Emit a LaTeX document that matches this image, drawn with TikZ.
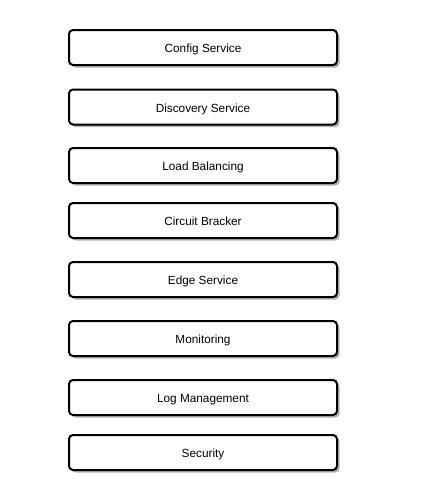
\documentclass[tikz,border=0pt]{standalone}
\usepackage{fontspec}
\setmainfont{Liberation Sans}
\usetikzlibrary{shadows}
\begin{document}
\begin{tikzpicture}[x=1pt,y=-1pt,
  box/.style={draw=black, line width=2pt, rounded corners=4pt, fill=white,
    minimum width=268pt, minimum height=35pt, inner sep=0pt,
    text height=11pt, text depth=0.6pt,
    font=\fontsize{11.8}{14}\selectfont,
    drop shadow={shadow xshift=2.5pt, shadow yshift=-2.5pt, fill=black!30, opacity=1}}]
\useasboundingbox (0,0) rectangle (429,499);
\node[box] (config) at (203,47.5) {Config Service};
\node[box] (disc) at (203,107) {Discovery Service};
\node[box] (lb) at (203,165.5) {Load Balancing};
\node[box] (cb) at (203,220.5) {Circuit Bracker};
\node[box] (edge) at (203,279.5) {Edge Service};
\node[box] (mon) at (203,338.5) {Monitoring};
\node[box] (log) at (203,397.5) {Log Management};
\node[box] (sec) at (203,452.5) {Security};
\end{tikzpicture}
\end{document}
